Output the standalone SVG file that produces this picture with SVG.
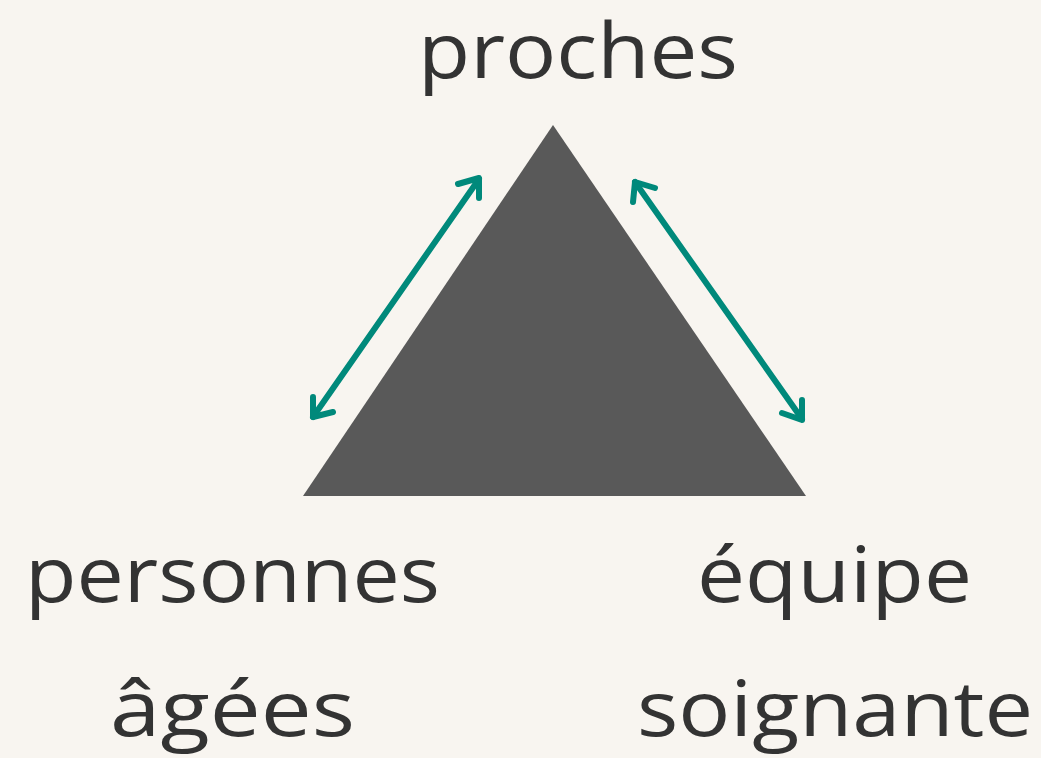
<svg xmlns="http://www.w3.org/2000/svg" width="1041" height="758" viewBox="0 0 1041 758">
<style>
.lbl{font-family:"Open Sans","Noto Sans","Liberation Sans",sans-serif;font-size:76px;fill:#333333;}
.arr{fill:none;stroke:#00897b;stroke-width:6;stroke-linecap:round;stroke-linejoin:round;}
</style>
<rect width="1041" height="758" fill="#f8f5f0"/>
<g id="triangle"><polygon points="553,125 303,496 806,496" fill="#595959"/></g>
<g id="proches"><text class="lbl" x="418" y="78" textLength="320" lengthAdjust="spacingAndGlyphs">proches</text></g>
<g id="personnes-agees">
<text class="lbl" x="25" y="602" textLength="415" lengthAdjust="spacingAndGlyphs">personnes</text>
<text class="lbl" x="110" y="736" textLength="245" lengthAdjust="spacingAndGlyphs">âgées</text>
</g>
<g id="equipe-soignante">
<text class="lbl" x="697" y="602" textLength="275" lengthAdjust="spacingAndGlyphs">équipe</text>
<text class="lbl" x="637" y="736" textLength="396" lengthAdjust="spacingAndGlyphs">soignante</text>
</g>
<g id="connectors">
<path class="arr" d="M479,179 L313,417"/>
<path class="arr" d="M458,184 L479,178 L479,198"/>
<path class="arr" d="M313,397 L313,417 L333,412"/>
<path class="arr" d="M635,182 L802,419"/>
<path class="arr" d="M633,202 L635,182 L655,188"/>
<path class="arr" d="M802,400 L802,420 L782,413"/>
</g>
</svg>
